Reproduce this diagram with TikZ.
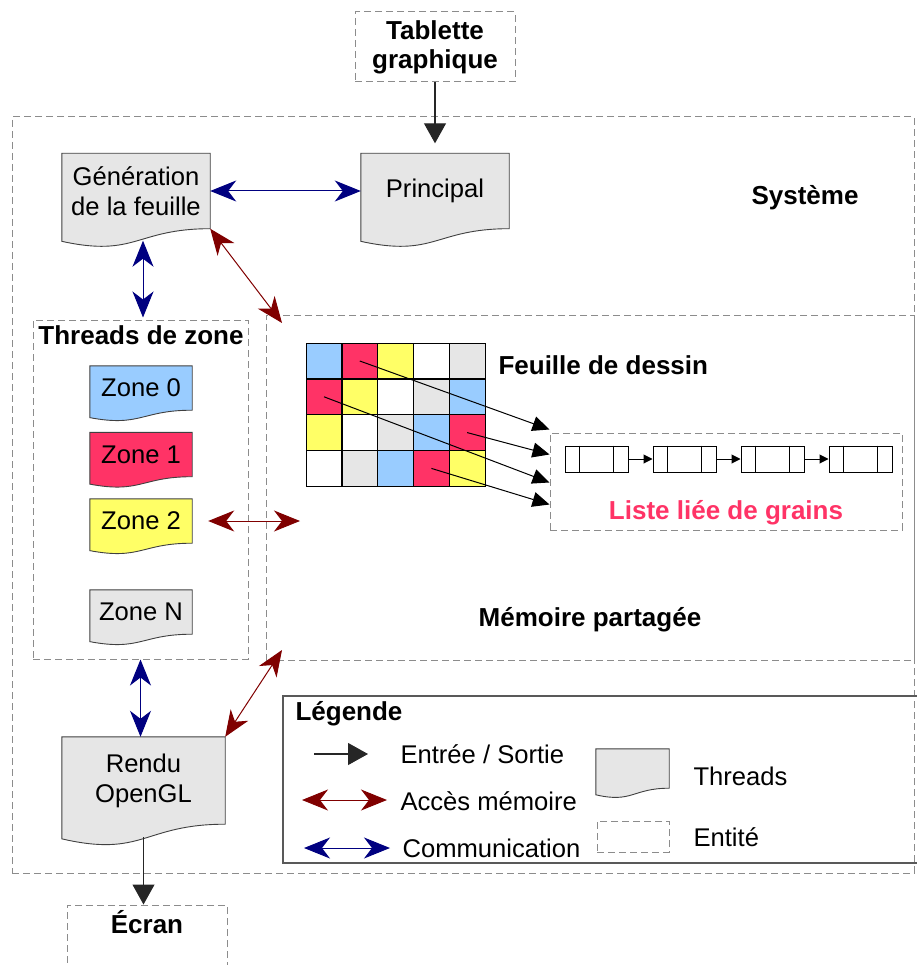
\documentclass[tikz,border=0pt]{standalone}
\usepackage{fontspec}
\setmainfont{Liberation Sans}
\usetikzlibrary{arrows.meta,calc,backgrounds}
\definecolor{zblue}{HTML}{99CCFF}
\definecolor{zred}{HTML}{FF3366}
\definecolor{zyellow}{HTML}{FFFF66}
\definecolor{zgray}{HTML}{E6E6E6}
\definecolor{memred}{HTML}{800000}
\definecolor{comblue}{HTML}{000080}
\definecolor{dashgray}{HTML}{8C8C8C}
\newcommand{\docshape}[2]{%
  \begin{scope}[on background layer]
    \filldraw[fill=#2, draw=black!75, line width=0.9pt]
      (#1.north west) -- (#1.north east) -- (#1.south east)
      .. controls (#1.south) and ($(#1.north)!1.384!(#1.south)$)
      .. ($(#1.north west)!1.1675!(#1.south west)$) -- cycle;
  \end{scope}}

\begin{document}
\begin{tikzpicture}[x=1pt, y=-1pt,
  txt/.style={font=\fontsize{25.6}{30}\selectfont},
  ttl/.style={font=\fontsize{26}{29}\selectfont\bfseries},
  thread/.style={txt, rectangle, inner sep=0pt, align=center},
  entity/.style={draw=dashgray, dash pattern=on 7pt off 4pt, line width=1pt, inner sep=0pt},
  io/.style={-{Triangle[length=20pt,width=22pt]}, line width=1.1pt, black!85},
  memacc/.style={{Stealth[length=26pt,width=21pt,inset=8pt]}-{Stealth[length=26pt,width=21pt,inset=8pt]}, line width=1pt, memred},
  comm/.style={{Stealth[length=26pt,width=21pt,inset=8pt]}-{Stealth[length=26pt,width=21pt,inset=8pt]}, line width=1pt, comblue},
  grain/.style={-{Triangle[length=17pt,width=15pt]}, line width=1pt},
  cell/.style={draw, line width=1.2pt, minimum size=35.8pt, inner sep=0pt},
  cellbox/.style={draw, line width=1pt, minimum width=63pt, minimum height=26pt, inner sep=0pt},
  link/.style={-{Triangle[length=9pt,width=9pt]}, line width=1pt}]
 \useasboundingbox (0,0) rectangle (916,965);

 % entites
 \node[entity, ttl, align=center, minimum width=160pt, minimum height=70pt] (tab) at (435,47) {Tablette\\graphique};
 \node[entity, minimum width=902pt, minimum height=756pt] (sys) at (463,495) {};
 \node[ttl] (systxt) at (805,198) {Système};
 \node[entity, minimum width=215pt, minimum height=339pt] (thr) at (140.5,489.5) {};
 \node[ttl] (thrtxt) at (141,335) {Threads de zone};
 \node[entity, minimum width=648pt, minimum height=345pt] (mem) at (590,487.5) {};
 \node[ttl] (memtxt) at (590,620) {Mémoire partagée};
 \node[entity, minimum width=352pt, minimum height=97pt] (list) at (726,481.5) {};
 \node[ttl, text=zred] (listtxt) at (726,513) {Liste liée de grains};
 \node[entity, minimum width=160pt, minimum height=80pt] (ecran) at (147,945) {};
 \node[ttl] (ecrantxt) at (147,922) {Écran};

 % threads
 \node[thread, minimum width=148pt, minimum height=75pt] (gen) at (136,191) {Génération\\de la feuille};
 \docshape{gen}{zgray}
 \node[thread, minimum width=148pt, minimum height=75pt] (prin) at (435,191) {Principal};
 \docshape{prin}{zgray}
 \node[thread, minimum width=102pt, minimum height=44pt] (zone0) at (141,388) {Zone 0};
 \docshape{zone0}{zblue}
 \node[thread, minimum width=102pt, minimum height=44pt] (zone1) at (141,454.5) {Zone 1};
 \docshape{zone1}{zred}
 \node[thread, minimum width=102pt, minimum height=44pt] (zone2) at (141,521) {Zone 2};
 \docshape{zone2}{zyellow}
 \node[thread, minimum width=102pt, minimum height=44pt] (zoneN) at (141,612) {Zone N};
 \docshape{zoneN}{zgray}
 \node[thread, minimum width=163pt, minimum height=87pt] (rendu) at (143.5,780.5) {Rendu\\OpenGL};
 \docshape{rendu}{zgray}

 % feuille de dessin
 \foreach \row [count=\r from 0] in {{zblue,zred,zyellow,white,zgray},{zred,zyellow,white,zgray,zblue},{zyellow,white,zgray,zblue,zred},{white,zgray,zblue,zred,zyellow}}
   \foreach \col [count=\c from 0] in \row
     \node[cell, fill=\col] (c\r\c) at ({324+35.8*\c},{361+35.8*\r}) {};
 \node[ttl, anchor=west] (feuiltxt) at (495,365) {Feuille de dessin};

 % liste de grains
 \foreach \i in {0,...,3} {
   \node[cellbox] (g\i) at ({596.5+88*\i},459) {};
   \draw ([xshift=15pt]g\i.north west) -- ([xshift=15pt]g\i.south west);
   \draw ([xshift=-15pt]g\i.north east) -- ([xshift=-15pt]g\i.south east);
 }
 \foreach \i/\j in {0/1,1/2,2/3} \draw[link] (g\i) -- (g\j);
 \foreach \r/\c/\dy in {0/1/3, 2/4/-22, 1/0/-50, 3/3/-72}
   \draw[grain] (c\r\c.center) -- ([yshift=\dy pt]list.north west);

 % liaisons
 \coordinate (memtl) at (282,323);
 \coordinate (memz) at (300,521);
 \coordinate (membl) at (282,650);
 \draw[io] (tab.south) -- ([yshift=10pt]prin.north);
 \draw[comm] (gen) -- (prin);
 \draw[comm] ([xshift=7pt,yshift=-12pt]gen.south) -- ([xshift=2.5pt,yshift=2pt]thr.north);
 \draw[memacc] (gen.south east) -- (memtl);
 \draw[memacc] ([xshift=16pt]zone2.east) -- (memz);
 \draw[comm] (thr.south) -- (thr.south |- rendu.north);
 \draw[memacc] (rendu.north east) -- (membl);
 \draw[io] ([yshift=-13pt]rendu.south) -- (ecran.north -| rendu.south);

 % legende
 \node[draw=black!65, line width=1.5pt, minimum width=647pt, minimum height=167pt, inner sep=0pt] (leg) at (606.5,779.5) {};
 \node[ttl, anchor=west] (legtxt) at (292,714) {Légende};
 \coordinate (io1) at (314,754);
 \coordinate (io2) at (368,754);
 \coordinate (ma1) at (302,800);
 \coordinate (ma2) at (387,800);
 \coordinate (co1) at (304,848);
 \coordinate (co2) at (390,848);
 \draw[io] (io1) -- (io2);
 \draw[memacc] (ma1) -- (ma2);
 \draw[comm] (co1) -- (co2);
 \node[txt, anchor=west] (iotxt) at (397,754) {Entrée / Sortie};
 \node[txt, anchor=west] (matxt) at (397,801) {Accès mémoire};
 \node[txt, anchor=west] (cotxt) at (399,848) {Communication};
 \node[thread, minimum width=73pt, minimum height=39pt] (legthr) at (632.5,768.5) {};
 \docshape{legthr}{zgray}
 \node[txt, anchor=west] (thrlegtxt) at (690,776) {Threads};
 \node[entity, minimum width=72pt, minimum height=31pt] (legent) at (633,836.5) {};
 \node[txt, anchor=west] (entlegtxt) at (690,837) {Entité};
\end{tikzpicture}
\end{document}
